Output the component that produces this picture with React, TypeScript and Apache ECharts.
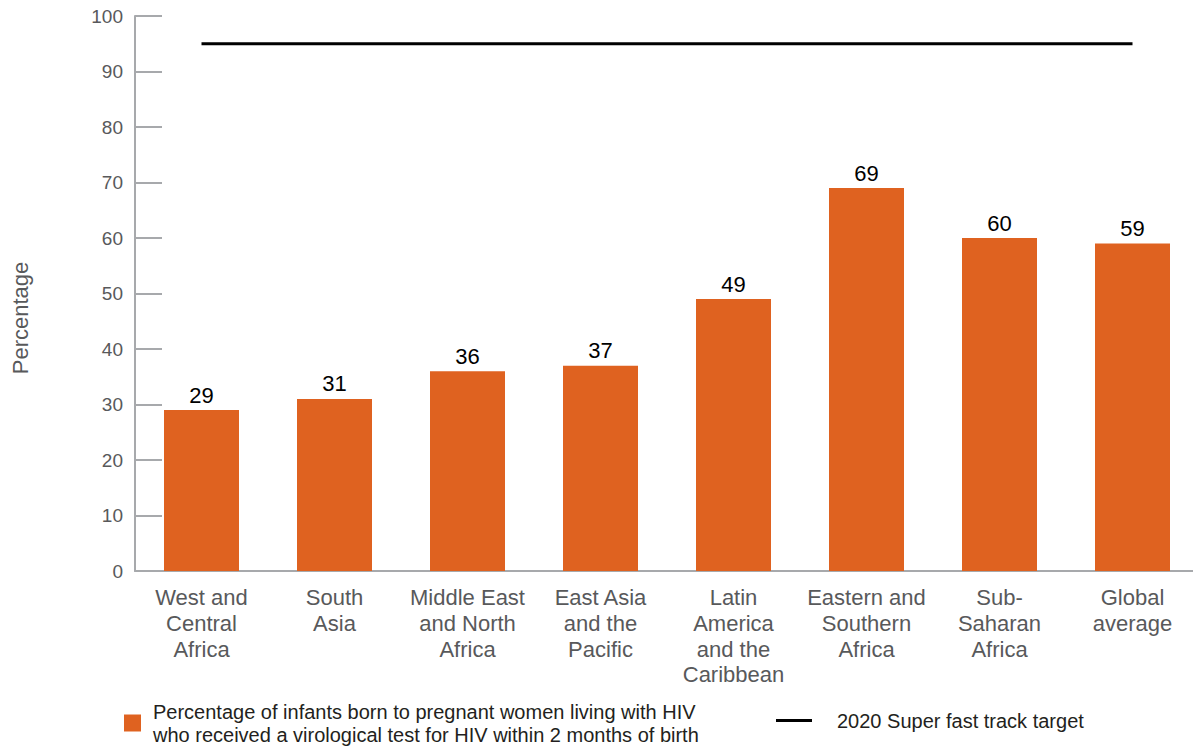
import React, { useEffect, useRef } from "react";
import * as echarts from "echarts";

const categories = [
  "West and\nCentral\nAfrica",
  "South\nAsia",
  "Middle East\nand North\nAfrica",
  "East Asia\nand the\nPacific",
  "Latin\nAmerica\nand the\nCaribbean",
  "Eastern and\nSouthern\nAfrica",
  "Sub-\nSaharan\nAfrica",
  "Global\naverage",
];
const testedValues = [29, 31, 36, 37, 49, 69, 60, 59];
const targetValues = [95, 95, 95, 95, 95, 95, 95, 95];
const barName =
  "Percentage of infants born to pregnant women living with HIV\nwho received a virological test for HIV within 2 months of birth";
const lineName = "2020 Super fast track target";
const yTicks = { min: 0, max: 100, interval: 10 };

const FONT = "'Liberation Sans', Arial, sans-serif";
const GREY = "#58595b";
const DARK = "#231f20";
const AXIS = "#a7a9ac";
const ORANGE = "#df6220";

export default function App() {
  const ref = useRef<HTMLDivElement>(null);
  useEffect(() => {
    if (!ref.current) return;
    const chart = echarts.init(ref.current, undefined, { renderer: "svg" });
    chart.setOption({
      animation: false,
      textStyle: { fontFamily: FONT },
      grid: { left: 135, right: 1, top: 16, bottom: 175 },
      xAxis: {
        type: "category",
        data: categories,
        axisLine: { lineStyle: { color: AXIS, width: 2 } },
        axisTick: {
          inside: true,
          length: 13,
          interval: 0,
          lineStyle: { color: AXIS, width: 2 },
        },
        axisLabel: {
          interval: 0,
          color: GREY,
          fontSize: 22,
          lineHeight: 25.7,
          margin: 14,
          fontFamily: FONT,
        },
      },
      yAxis: {
        type: "value",
        min: yTicks.min,
        max: yTicks.max,
        interval: yTicks.interval,
        axisLine: { show: true, lineStyle: { color: AXIS, width: 2 } },
        axisTick: {
          show: true,
          inside: true,
          length: 27,
          lineStyle: { color: AXIS, width: 2 },
        },
        splitLine: { show: false },
        axisLabel: { color: GREY, fontSize: 19, margin: 12, fontFamily: FONT },
      },
      legend: [
        {
          data: [{ name: barName, icon: "rect" }],
          left: 119,
          top: 695,
          itemWidth: 17,
          itemHeight: 17,
          textStyle: {
            color: DARK,
            fontSize: 20,
            lineHeight: 23,
            padding: [0, 0, 0, 7],
            fontFamily: FONT,
          },
          selectedMode: false,
        },
        {
          data: [{ name: lineName, icon: "rect" }],
          left: 771,
          top: 704,
          itemWidth: 36,
          itemHeight: 3,
          textStyle: {
            color: DARK,
            fontSize: 20,
            lineHeight: 23,
            padding: [0, 0, 0, 20],
            fontFamily: FONT,
          },
          selectedMode: false,
        },
      ],
      graphic: [
        {
          type: "text",
          x: 20,
          y: 318,
          rotation: Math.PI / 2,
          style: {
            text: "Percentage",
            fill: GREY,
            fontSize: 22,
            fontFamily: FONT,
            align: "center",
            verticalAlign: "middle",
          },
        },
      ],
      series: [
        {
          name: barName,
          type: "bar",
          data: testedValues,
          barWidth: 75,
          itemStyle: { color: ORANGE },
          label: {
            show: true,
            position: "top",
            distance: 4,
            color: "#000",
            fontSize: 22,
            fontFamily: FONT,
          },
        },
        {
          name: lineName,
          type: "line",
          data: targetValues,
          symbol: "none",
          itemStyle: { color: "#000" },
          lineStyle: { color: "#000", width: 3 },
        },
      ],
    });
    return () => chart.dispose();
  }, []);
  return (
    <div
      style={{
        position: "fixed",
        left: 0,
        top: 0,
        width: 1193,
        height: 746,
        overflow: "hidden",
        background: "#fff",
      }}
    >
      <div ref={ref} style={{ width: 1200, height: 746 }} />
    </div>
  );
}
